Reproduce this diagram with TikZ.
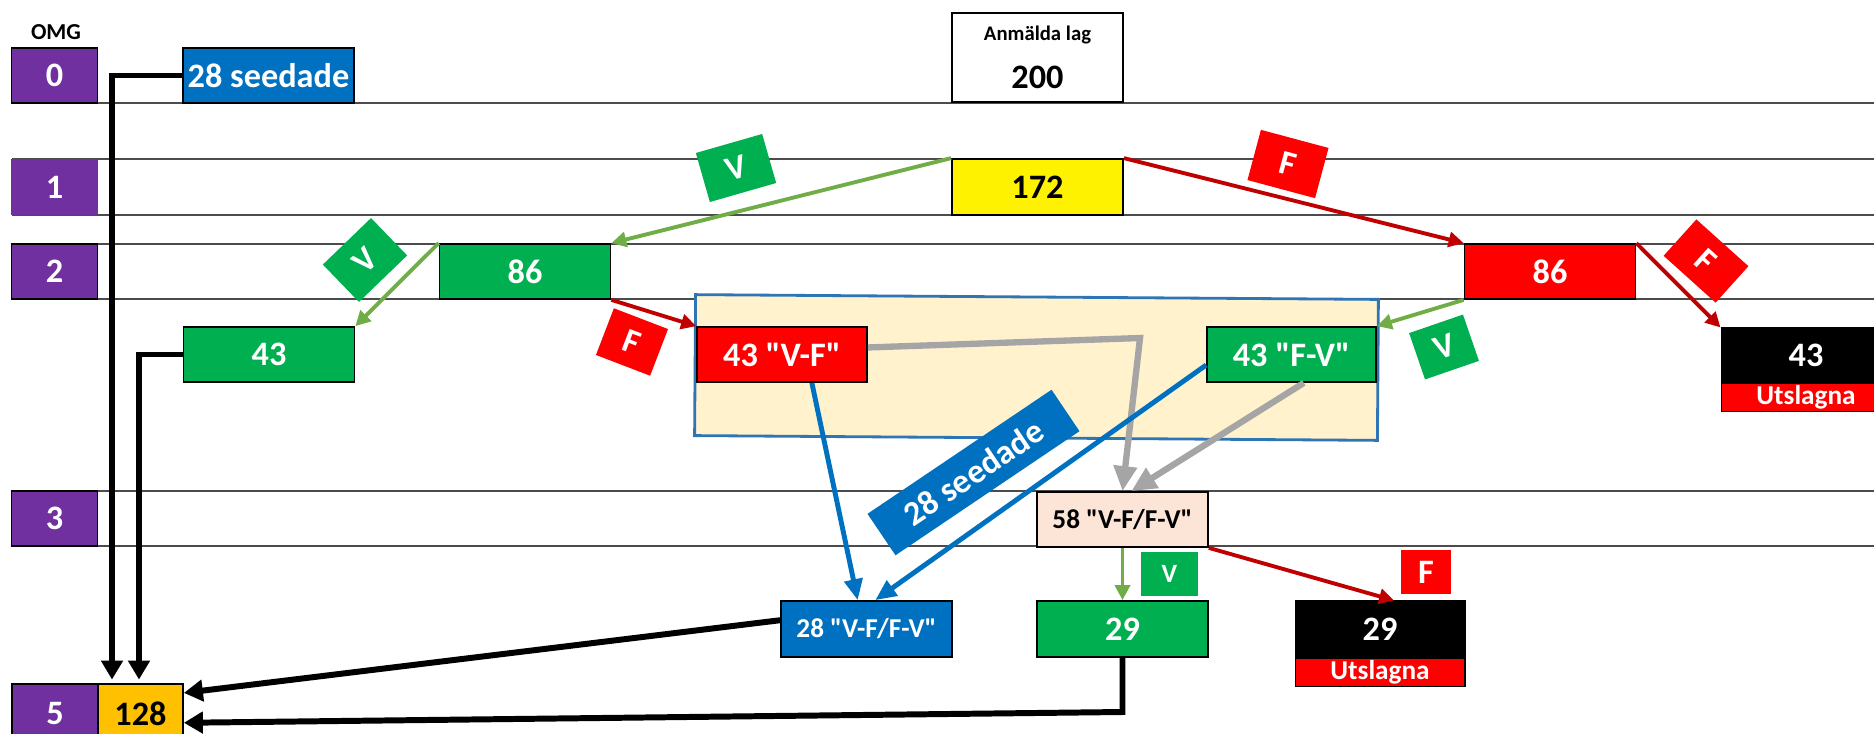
\documentclass[tikz,border=0pt]{standalone}
\usepackage{fontspec}
\setmainfont{Carlito}[Ligatures=TeXOff]
\usetikzlibrary{arrows.meta,positioning}
\definecolor{omgpurple}{HTML}{7030A0}
\definecolor{vgreen}{HTML}{00B050}
\definecolor{fred}{HTML}{FF0000}
\definecolor{seedblue}{HTML}{0070C0}
\definecolor{grpblue}{HTML}{2E75B6}
\definecolor{arrowgreen}{HTML}{70AD47}
\definecolor{arrowred}{HTML}{C00000}
\definecolor{arrowgray}{HTML}{A5A5A5}
\definecolor{beige}{HTML}{FFF2CC}
\definecolor{peach}{HTML}{FCE4D6}
\definecolor{qualorange}{HTML}{FFC000}

\begin{document}
\begin{tikzpicture}[x=0.02cm,y=-0.02cm]
                    \tikzset{every node/.style={inner sep=0pt, font=\bfseries\fontsize{19.5}{20}\selectfont}}
                    \tikzset{midtext/.style={font=\bfseries\fontsize{15.5}{16}\selectfont}}
                    \tikzset{box/.style={draw=black, line width=1pt, minimum width=3.42cm, minimum height=1.1cm, text=white}}
                    \tikzset{omgbox/.style={box, fill=omgpurple, minimum width=1.72cm}}
                    \tikzset{kobox/.style={draw=black, line width=0.6pt, fill=black, text=white, minimum width=3.4cm, minimum height=1.1cm}}
                    \tikzset{kolbl/.style={draw=black, line width=0.6pt, fill=fred, text=white, minimum width=3.4cm, minimum height=0.57cm, font=\bfseries\fontsize{15.5}{16}\selectfont}}
                    \tikzset{tag/.style={text=white, minimum width=1.38cm, minimum height=1.02cm}}
                    \tikzset{vtag/.style={tag, fill=vgreen}, ftag/.style={tag, fill=fred}}
                    \tikzset{rowline/.style={draw=black!70, line width=0.8pt}}
                    \tikzset{vpath/.style={draw=arrowgreen, line width=2.2pt, -{Triangle[length=0.3cm, width=0.3cm]}}}
                    \tikzset{fpath/.style={draw=arrowred, line width=2.2pt, -{Triangle[length=0.3cm, width=0.3cm]}}}
                    \tikzset{gpath/.style={draw=arrowgray, line width=3.6pt, -{Triangle[length=0.5cm, width=0.45cm]}}}
                    \tikzset{bpath/.style={draw=seedblue, line width=2.8pt, -{Triangle[length=0.42cm, width=0.36cm]}}}
                    \tikzset{kpath/.style={draw=black, line width=3.4pt, -{Triangle[length=0.38cm, width=0.42cm]}}}
                    \useasboundingbox (0,0) rectangle (1874,734);
                    \foreach \y in {103,159,215,244,299,491,546}
                        \draw[rowline] (12,\y) -- (1874,\y);
                    % rounds
                    \node (omg) at (56,32) [font=\bfseries\fontsize{13}{14}\selectfont] {OMG};
                    \node[omgbox] (r0) at (54.5,75.5) {0};
                    \node[omgbox, draw=omgpurple] (r1) at (54.5,187) {1};
                    \node[omgbox] (r2) at (54.5,271.5) {2};
                    \node[omgbox] (r3) at (54.5,518.5) {3};
                    \node[omgbox, minimum height=1.2cm] (r5) at (55,714) {5};
                    \node[box, fill=qualorange, text=black, minimum width=1.7cm, minimum height=1.2cm] (n128) at (140.5,714) {128};
                    % teams
                    \node[box, fill=seedblue] (seed0) at (268.5,75.5) {28 seedade};
                    \node[box, fill=white, minimum height=1.78cm] (anm) at (1037.5,57.5) {};
                    \node[font=\bfseries\fontsize{11.8}{12}\selectfont] (anmlbl) at (1037.5,35) {Anmälda lag};
                    \node (anmnum) at (1037.5,77) {200};
                    \node[box, fill=yellow, text=black, minimum height=1.12cm] (n172) at (1037.5,187) {172};
                    \node[box, fill=vgreen] (g86) at (525,271.5) {86};
                    \node[box, fill=fred] (r86) at (1550,271.5) {86};
                    \node[box, fill=vgreen] (g43) at (269,354.5) {43};
                    \node[kobox, minimum height=1.08cm] (ko43) at (1806,355) {43};
                    \node[kolbl, below=0pt of ko43] (ko43u) {Utslagna};
                    \node[draw=grpblue, line width=1.6pt, fill=beige, minimum width=13.66cm, minimum height=2.82cm, rotate=-0.4] (grp) at (1036.5,367.5) {};
                    \node[box, fill=fred, minimum width=3.4cm] (vf43) at (782,354.5) {43 "V-F"};
                    \node[box, fill=vgreen, minimum width=3.38cm] (fv43) at (1291.5,354.5) {43 "F-V"};
                    \node[box, midtext, fill=peach, text=black] (m58) at (1122.5,519.5) {58 "V-F/F-V"};
                    \node[box, midtext, fill=seedblue, minimum height=1.12cm] (b28) at (866.5,629) {28 "V-F/F-V"};
                    \node[box, fill=vgreen, minimum height=1.12cm] (g29) at (1122.5,629) {29};
                    \node[kobox, minimum height=1.12cm] (ko29) at (1380,629) {29};
                    \node[kolbl, below=0pt of ko29] (ko29u) {Utslagna};
                    % paths
                    \draw[vpath] (n172.north west) -- (g86.north east);
                    \draw[fpath] (n172.north east) -- (r86.north west);
                    \draw[vpath] (g86.north west) -- (g43.north east);
                    \draw[fpath] (g86.south east) -- (vf43.north west);
                    \draw[vpath] (r86.south west) -- (fv43.north east);
                    \draw[fpath] (r86.north east) -- (ko43.north west);
                    \coordinate (gbend) at (1140,338);
                    \draw[gpath] ([yshift=4pt]vf43.east) -- (gbend) -- (m58.north);
                    \draw[gpath] ([xshift=7pt]fv43.south) -- ([xshift=5pt]m58.north);
                    \draw[bpath] ([xshift=17pt]vf43.south) -- ([xshift=-5pt]b28.north);
                    \draw[bpath] ([yshift=-6pt]fv43.west) -- ([xshift=5pt]b28.north);
                    \draw[vpath] (m58.south) -- (g29.north);
                    \draw[fpath] (m58.south east) -- ([xshift=8pt]ko29.north);
                    \coordinate (c0) at (112,75.5);
                    \coordinate (c43) at (139,354.5);
                    \coordinate (c29) at (1122.5,712);
                    \draw[kpath, shorten >=2pt] (seed0.west) -- (c0) -- (c0 |- n128.north);
                    \draw[kpath, shorten >=2pt] (g43.west) -- (c43) -- (c43 |- n128.north);
                    \draw[kpath] ([yshift=5pt]b28.west) -- ([yshift=12pt]n128.east);
                    \draw[kpath] (g29.south) -- (c29) -- ([yshift=-5pt]n128.east);
                    % tags
                    \node[vtag, rotate=16] (v1) at (736,168) {V};
                    \node[ftag, rotate=-15, minimum width=1.4cm, minimum height=1.04cm] (f1) at (1288,164) {F};
                    \node[vtag, rotate=44, minimum width=1.34cm, minimum height=1.04cm] (v2) at (365,260) {V};
                    \node[ftag, rotate=-21, minimum width=1.16cm, minimum height=1cm] (f2) at (632,342) {F};
                    \node[vtag, rotate=19, minimum width=1.14cm, minimum height=0.98cm] (v3) at (1444,347) {V};
                    \node[ftag, rotate=-42, minimum width=1.4cm, minimum height=0.98cm] (f3) at (1706,261) {F};
                    \node[vtag, minimum width=1.14cm, minimum height=0.88cm, font=\bfseries\fontsize{15}{16}\selectfont] (v4) at (1169.5,574) {V};
                    \node[ftag, minimum width=1cm, minimum height=0.88cm] (f4) at (1426,572) {F};
                    \node[fill=seedblue, text=white, rotate=34, minimum width=4.44cm, minimum height=1cm] (seedlbl) at (973.5,472.5) {28 seedade};
\end{tikzpicture}
\end{document}
